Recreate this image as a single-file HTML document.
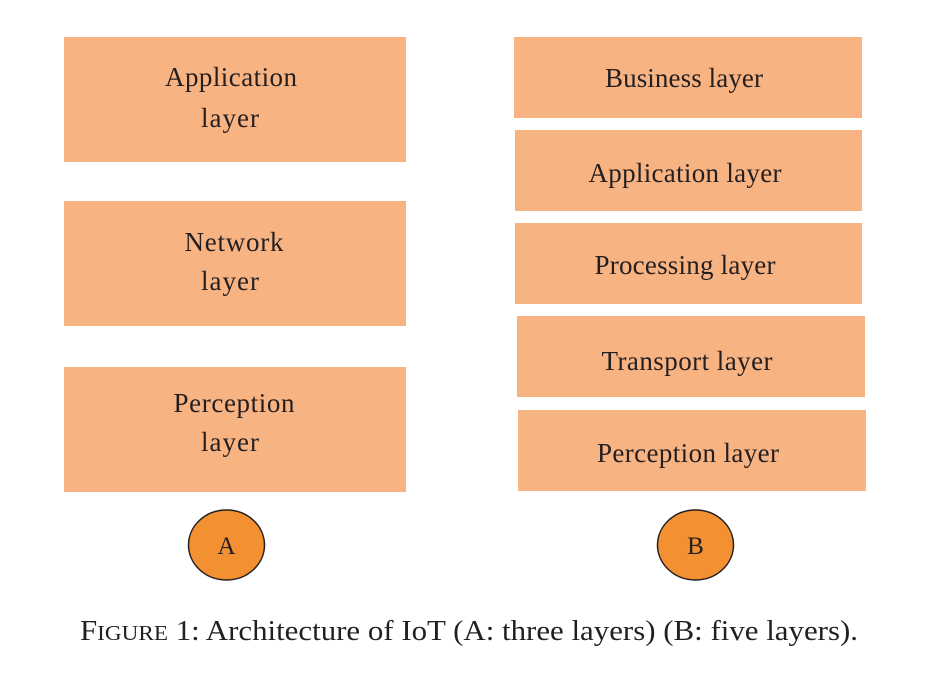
<!DOCTYPE html>
<html><head><style>body{margin:0;background:#fff}svg{display:block}</style></head>
<body>
<svg width="930" height="698" xmlns="http://www.w3.org/2000/svg" font-family="Liberation Serif, serif" fill="#231f20">
<g fill="#F8B383">
<rect x="64" y="37" width="342" height="125"/>
<rect x="64" y="201" width="342" height="125"/>
<rect x="64" y="367" width="342" height="125"/>
<rect x="514" y="37" width="348" height="81"/>
<rect x="515" y="130" width="347" height="81"/>
<rect x="515" y="223" width="347" height="81"/>
<rect x="517" y="316" width="348" height="81"/>
<rect x="518" y="410" width="348" height="81"/>
</g>
<g font-size="27" text-anchor="middle" lengthAdjust="spacingAndGlyphs">
<text x="231" y="86" textLength="132">Application</text>
<text x="230" y="127" textLength="58">layer</text>
<text x="234" y="251" textLength="99">Network</text>
<text x="230" y="290" textLength="58">layer</text>
<text x="234" y="412" textLength="121">Perception</text>
<text x="230" y="451" textLength="58">layer</text>
<text x="684" y="87" textLength="158">Business layer</text>
<text x="685" y="182" textLength="193">Application layer</text>
<text x="685" y="274" textLength="181">Processing layer</text>
<text x="687" y="370" textLength="171">Transport layer</text>
<text x="688" y="462" textLength="182">Perception layer</text>
</g>
<g fill="#F39031" stroke="#231f20" stroke-width="1.5">
<ellipse cx="226.5" cy="545" rx="38" ry="35"/>
<ellipse cx="695.5" cy="545" rx="38" ry="35"/>
</g>
<g font-size="25" text-anchor="middle">
<text x="226.5" y="554">A</text>
<text x="695.5" y="554">B</text>
</g>
<text x="80" y="640" font-size="28" textLength="778" lengthAdjust="spacingAndGlyphs">F<tspan font-size="21">IGURE</tspan> 1: Architecture of IoT (A: three layers) (B: five layers).</text>
</svg>
</body></html>
